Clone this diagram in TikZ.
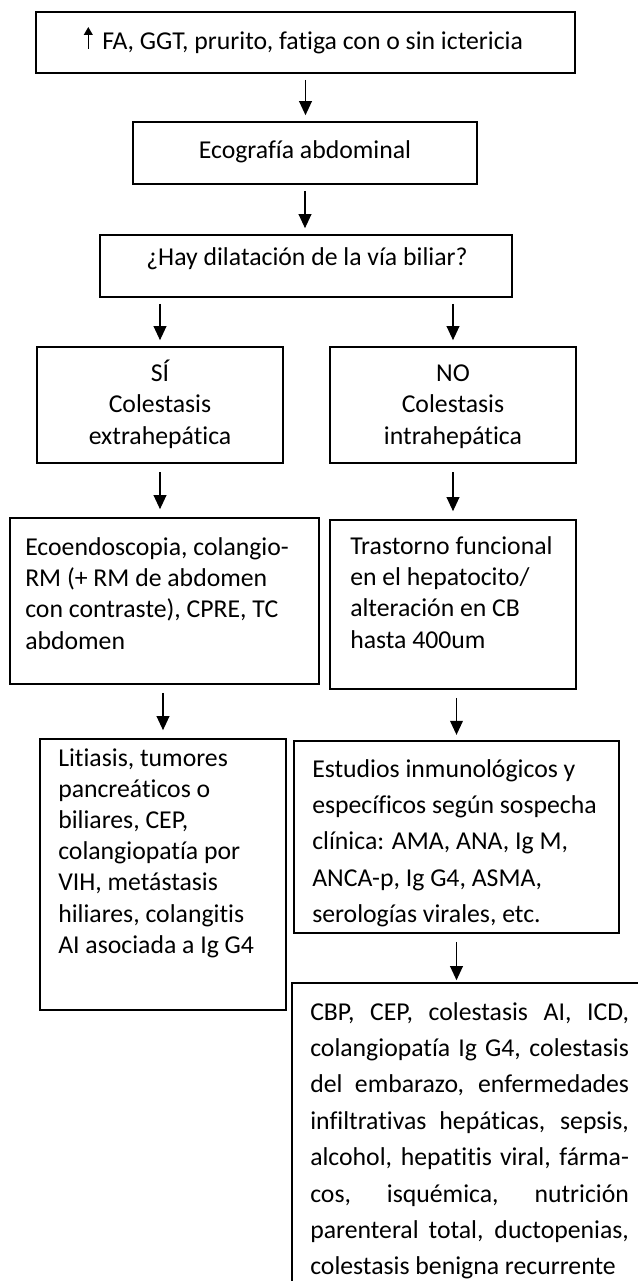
\documentclass[tikz,border=0pt]{standalone}
\usepackage{fontspec}
\setmainfont{Carlito}[Ligatures=NoCommon]
\usetikzlibrary{arrows.meta,fit}
\begin{document}
\begin{tikzpicture}[x=0.75pt,y=-0.75pt,
  box/.style={draw=black, line width=1.2pt, inner sep=0pt, rectangle},
  txt/.style={inner sep=0pt, font=\fontsize{19.3pt}{23.6pt}\selectfont},
  txtw/.style={inner sep=0pt, font=\fontsize{19.3pt}{27.3pt}\selectfont},
  arr/.style={line width=1.1pt, -{Triangle[length=10.5pt,width=9.5pt]}, shorten <=4.5pt, shorten >=4.5pt}]
\path[use as bounding box, clip] (0,0) rectangle (638,1281);
\fill[white] (0,0) rectangle (638,1281);
% boxes
\node[box, fit={(36,12) (575,73)}] (top) {};
\node[box, fit={(133,122) (477,184)}] (eco) {};
\node[box, fit={(100,235) (512,297)}] (hay) {};
\node[box, fit={(37,347) (283,463)}] (si) {};
\node[box, fit={(330,347) (576,463)}] (no) {};
\node[box, fit={(10,518) (319,684)}] (ecoen) {};
\node[box, fit={(330,520) (576,689)}] (tras) {};
\node[box, fit={(40,739) (286,1010)}] (lit) {};
\node[box, fit={(294,741) (619,933)}] (est) {};
\node[box, fit={(292,983) (660,1300)}] (cbp) {};
% texts
\draw[line width=1.2pt, -{Triangle[length=6pt,width=6.6pt]}] (88.3,49) -- (88.3,27);
\node[txt, anchor=base west] (ttop) at (102,49.5) {FA, GGT, prurito, fatiga con o sin ictericia};
\node[txt, anchor=base] (teco) at (305,158.5) {Ecografía abdominal};
\node[txt, anchor=base] (thay) at (307,265) {¿Hay dilatación de la vía biliar?};
\node[txt, anchor=base] (tsi) at (160,381.5) {\parbox[t]{150pt}{\centering SÍ\\Colestasis\\extrahepática}};
\node[txt, anchor=base] (tno) at (453,381.5) {\parbox[t]{150pt}{\centering NO\\Colestasis\\intrahepática}};
\node[txt, anchor=base west] (tecoen) at (25,555) {\parbox[t]{225pt}{Ecoendoscopia, colangio-\\RM (+ RM de abdomen\\con contraste), CPRE, TC\\abdomen}};
\node[txt, anchor=base west] (ttras) at (350,554) {\parbox[t]{180pt}{Trastorno funcional\\en el hepatocito/\\alteración en CB\\hasta 400um}};
\node[txt, anchor=base west, font=\fontsize{19.3pt}{23.4pt}\selectfont] (tlit) at (58,766) {\parbox[t]{180pt}{Litiasis, tumores\\pancreáticos o\\biliares, CEP,\\colangiopatía por\\VIH, metástasis\\hiliares, colangitis\\AI asociada a Ig G4}};
\node[txtw, anchor=base west] (test) at (312,777) {\parbox[t]{232pt}{Estudios inmunológicos y\\específicos según sospecha\\clínica: AMA, ANA, Ig M,\\ANCA-p, Ig G4, ASMA,\\serologías virales, etc.}};
\node[txtw, anchor=base west] (tcbp) at (310,1020) {\parbox[t]{239pt}{\tolerance=10000\hbadness=10000\hyphenpenalty=10000 CBP, CEP, colestasis AI, ICD,\linebreak colangiopatía Ig G4, colestasis\linebreak del embarazo, enfermedades\linebreak infiltrativas hepáticas, sepsis,\linebreak alcohol, hepatitis viral, fárma-\linebreak cos, isquémica, nutrición\linebreak parenteral total, ductopenias,\linebreak colestasis benigna recurrente}};
% connectors
\draw[arr] (top.south) -- (top.south |- eco.north);
\draw[arr] (eco.south) -- (eco.south |- hay.north);
\draw[arr] (hay.south -| si.north) -- (si.north);
\draw[arr] (hay.south -| no.north) -- (no.north);
\draw[arr, shorten <=6.5pt, shorten >=6pt] (si.south) -- (si.south |- ecoen.north);
\draw[arr, shorten <=6.5pt, shorten >=6pt] (no.south) -- (no.south |- tras.north);
\draw[arr, shorten <=6pt, shorten >=6pt] (ecoen.south -| lit.north) -- (lit.north);
\draw[arr, shorten <=6pt, shorten >=4pt] (tras.south -| est.north) -- (est.north);
\draw[arr, shorten <=6pt, shorten >=1.5pt] (est.south) -- (est.south |- cbp.north);
\end{tikzpicture}
\end{document}
